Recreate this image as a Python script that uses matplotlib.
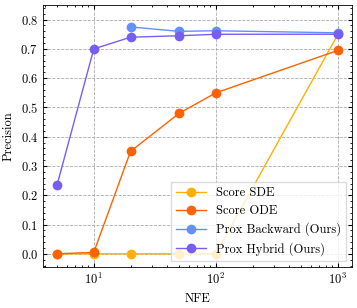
import matplotlib
matplotlib.use("Agg")
import matplotlib.pyplot as plt

# NFE values and precision per method
nfe = [5, 10, 20, 50, 100, 1000]
score_sde = [0.0, 0.0, 0.0, 0.0, 0.0, 0.75]
score_ode = [0.0, 0.005, 0.35, 0.48, 0.55, 0.695]
nfe_backward = [20, 50, 100, 1000]
prox_backward = [0.775, 0.76, 0.762, 0.755]
prox_hybrid = [0.235, 0.70, 0.74, 0.745, 0.75, 0.75]

plt.rcParams.update({
    "font.family": "serif",
    "font.serif": ["cmr10", "DejaVu Serif"],
    "mathtext.fontset": "cm",
    "axes.formatter.use_mathtext": True,
    "font.size": 9,
    "xtick.direction": "in",
    "ytick.direction": "in",
    "xtick.top": True,
    "ytick.right": True,
    "xtick.minor.visible": True,
    "ytick.minor.visible": True,
    "xtick.major.size": 3,
    "ytick.major.size": 3,
    "xtick.minor.size": 1.5,
    "ytick.minor.size": 1.5,
    "axes.linewidth": 0.6,
})

fig = plt.figure(figsize=(3.57, 3.08), dpi=100)
ax = fig.add_axes([43 / 357, 1 - 267 / 308, 309 / 357, 262 / 308])

kw = dict(marker="o", markersize=6, linewidth=1)
ax.plot(nfe, score_sde, color="#FFB000", label="Score SDE", **kw)
ax.plot(nfe, score_ode, color="#FE6100", label="Score ODE", **kw)
ax.plot(nfe_backward, prox_backward, color="#648FFF", label="Prox Backward (Ours)", **kw)
ax.plot(nfe, prox_hybrid, color="#785EF0", label="Prox Hybrid (Ours)", **kw)

ax.set_xscale("log")
ax.set_ylim(-0.045, 0.85)
ax.set_xlabel("NFE")
ax.set_ylabel("Precision")
ax.grid(True, which="major", linestyle="--", color="#aaaaaa", linewidth=0.6)
ax.legend(loc="lower right", fancybox=False, framealpha=0.8, edgecolor="lightgray",
          handlelength=2.4, labelspacing=0.45)

fig.savefig("out.png", dpi=100)
